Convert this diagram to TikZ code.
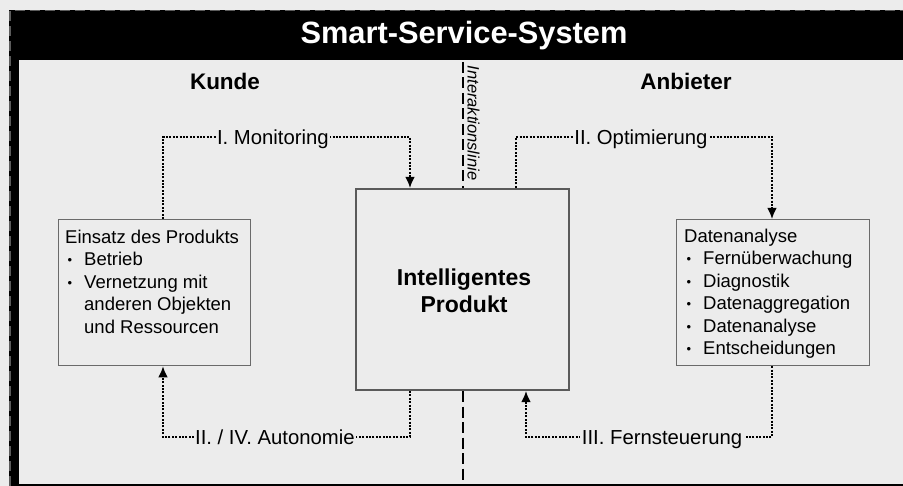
\documentclass[tikz,border=0pt]{standalone}
\usepackage{fontspec}
\setmainfont{Liberation Sans}
\usetikzlibrary{arrows.meta,calc}
\definecolor{bg}{HTML}{ECECEC}
\definecolor{boxgray}{HTML}{5A5A5A}
\definecolor{boxgrayl}{HTML}{6A6A6A}
\definecolor{framegray}{HTML}{5C5C5C}
\newcommand{\sbul}{\makebox[19pt][l]{\hspace{2.5pt}\raisebox{1pt}{\scalebox{0.7}{•}}}}
\newcommand{\sind}{\hspace*{19pt}}
\tikzset{
  conn/.style={line width=1.4pt, dash pattern=on 2pt off 1.4pt, -{Latex[length=11pt,width=9.5pt]}},
  lab/.style={fill=bg, inner xsep=1.5pt, inner ysep=2pt, text height=14.5pt, text depth=0pt, font=\fontsize{20.3}{24}\selectfont},
  smallbox/.style={draw=boxgrayl, line width=1.3pt, fill=bg, anchor=north west, inner sep=0pt},
  boxtext/.style={anchor=north west, inner sep=0pt, align=left, font=\fontsize{18.5}{22.5}\selectfont},
  heading/.style={font=\bfseries\fontsize{22.5}{26}\selectfont},
  ilinie/.style={line width=1.5pt, dash pattern=on 11pt off 4.5pt}
}
\begin{document}
\begin{tikzpicture}[x=1pt,y=-1pt]
\useasboundingbox (0,0) rectangle (903,486);
% background and frame
\fill[bg] (0,0) rectangle (903,486);
\fill[black] (9,10) rectangle (903,60);
\fill[black] (9,10) rectangle (19,486);
\fill[black] (19,484) rectangle (903,486);
\draw[framegray, line width=1.5pt, dash pattern=on 10pt off 5pt] (9.75,486) -- (9.75,10.75) -- (903,10.75);
\node[text=white, font=\bfseries\fontsize{30.8}{36}\selectfont] (title) at (464,36) {Smart-Service-System};
\node[heading] (kunde) at (225,81) {Kunde};
\node[heading] (anbieter) at (686,81) {Anbieter};

% central product
\node[draw=boxgray, line width=2.2pt, fill=bg, minimum width=213pt, minimum height=201pt, inner sep=0pt] (big) at (462.5,289.5) {};
\node[font=\bfseries\fontsize{23}{27}\selectfont, align=center, inner sep=0pt] (bigtxt) at (464,290.5) {Intelligentes\\Produkt};

% interaction line
\coordinate (itop) at (463,62);
\coordinate (ibot) at (463,484);
\draw[ilinie] (itop) -- (itop |- big.north);
\draw[ilinie] (itop |- big.south) -- (ibot);
\node[rotate=-90, font=\itshape\fontsize{16.5}{20}\selectfont, inner sep=0pt] (ilabel) at (473.5,123) {Interaktionslinie};

% side boxes
\node[smallbox, minimum width=192pt, minimum height=146pt] (use) at (58,219) {};
\node[boxtext] (usetxt) at (65,229.5) {Einsatz des Produkts\\
\sbul Betrieb\\
\sbul Vernetzung mit\\
\sind anderen Objekten\\
\sind und Ressourcen};

\node[smallbox, minimum width=193pt, minimum height=146pt] (dat) at (676,219) {};
\node[boxtext] (dattxt) at (684,228.5) {Datenanalyse\\
\sbul Fernüberwachung\\
\sbul Diagnostik\\
\sbul Datenaggregation\\
\sbul Datenanalyse\\
\sbul Entscheidungen};

% connectors
\coordinate (mL) at (163,137);
\coordinate (mR) at (410,137);
\draw[conn] (use.north -| mL) -- (mL) -- node[lab, pos=0.445] (lmon) {I. Monitoring} (mR) -- (big.north -| mR);

\coordinate (oL) at (516,137);
\coordinate (oR) at (772,137);
\draw[conn] (big.north -| oL) -- (oL) -- node[lab, pos=0.488] (lopt) {II. Optimierung} (oR) -- (dat.north -| oR);

\coordinate (aR) at (410,437);
\coordinate (aL) at (163,437);
\draw[conn] (big.south -| aR) -- (aR) -- node[lab, pos=0.547] (laut) {II. / IV. Autonomie} (aL) -- (use.south -| aL);

\coordinate (fR) at (772,437);
\coordinate (fL) at (526,437);
\draw[conn] (dat.south -| fR) -- (fR) -- node[lab, pos=0.447] (lfern) {III. Fernsteuerung} (fL) -- (big.south -| fL);
\end{tikzpicture}
\end{document}
